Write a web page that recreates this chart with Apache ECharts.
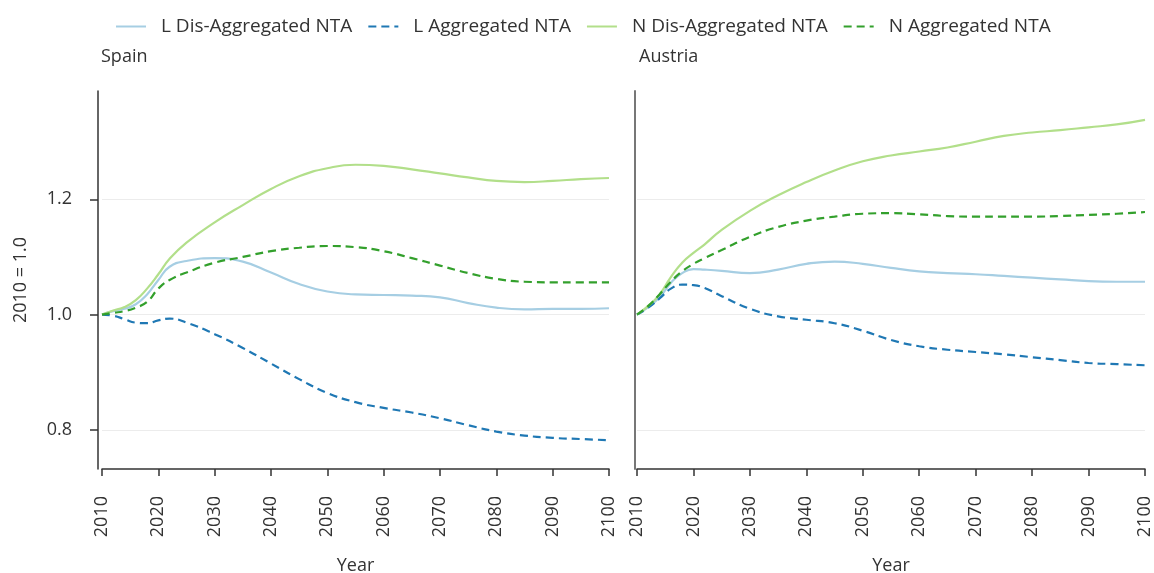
<!DOCTYPE html>
<html>
<head>
<meta charset="utf-8">
<script src="https://cdn.jsdelivr.net/npm/echarts@6/dist/echarts.min.js"></script>
<style>
  html, body { margin: 0; padding: 0; background: #fff; }
  #chart { width: 1154px; height: 573px; }
</style>
</head>
<body>
<div id="chart"></div>
<script>
// 年份（两个面板共用）
const years = [2010, 2012, 2014, 2016, 2018, 2020, 2022, 2025, 2030, 2035, 2040, 2045, 2050,
  2055, 2060, 2065, 2070, 2075, 2080, 2085, 2090, 2095, 2100]
const yTicks = [0.8, 1.0, 1.2]

// Spain
const spainLDis = [1.0, 1.006, 1.01, 1.018, 1.035, 1.06, 1.083, 1.093, 1.098, 1.092, 1.073, 1.053, 1.04,
  1.035, 1.034, 1.033, 1.03, 1.02, 1.012, 1.009, 1.01, 1.01, 1.011]
const spainLAgg = [1.0, 0.998, 0.992, 0.986, 0.985, 0.99, 0.993, 0.986, 0.966, 0.942, 0.915, 0.888, 0.864,
  0.848, 0.838, 0.83, 0.82, 0.808, 0.797, 0.79, 0.786, 0.784, 0.782]
const spainNDis = [1.0, 1.007, 1.013, 1.025, 1.045, 1.07, 1.097, 1.125, 1.16, 1.19, 1.218, 1.24, 1.254,
  1.26, 1.258, 1.252, 1.245, 1.238, 1.232, 1.23, 1.232, 1.235, 1.237]
const spainNAgg = [1.0, 1.003, 1.006, 1.012, 1.022, 1.045, 1.06, 1.073, 1.09, 1.1, 1.11, 1.116, 1.119,
  1.117, 1.11, 1.098, 1.085, 1.072, 1.062, 1.057, 1.056, 1.056, 1.056]

// Austria
const austriaLDis = [1.0, 1.013, 1.03, 1.055, 1.072, 1.079, 1.078, 1.076, 1.072, 1.078, 1.088, 1.092, 1.088,
  1.081, 1.075, 1.072, 1.07, 1.067, 1.064, 1.061, 1.058, 1.057, 1.057]
const austriaLAgg = [1.0, 1.012, 1.028, 1.045, 1.052, 1.051, 1.046, 1.032, 1.01, 0.997, 0.991, 0.985, 0.972,
  0.956, 0.945, 0.939, 0.935, 0.931, 0.926, 0.921, 0.916, 0.914, 0.912]
const austriaNDis = [1.0, 1.015, 1.035, 1.065, 1.09, 1.107, 1.122, 1.147, 1.18, 1.207, 1.23, 1.25, 1.266,
  1.276, 1.283, 1.29, 1.3, 1.31, 1.316, 1.32, 1.325, 1.33, 1.338]
const austriaNAgg = [1.0, 1.015, 1.035, 1.057, 1.075, 1.088, 1.098, 1.112, 1.135, 1.152, 1.163, 1.17, 1.175,
  1.176, 1.174, 1.171, 1.17, 1.17, 1.17, 1.171, 1.173, 1.175, 1.178]

const names = ['L Dis-Aggregated NTA', 'L Aggregated NTA', 'N Dis-Aggregated NTA', 'N Aggregated NTA']
const colors = ['#a6cee3', '#1f78b4', '#b2df8a', '#33a02c']
const dashed = [false, true, false, true]

const font = 'Open Sans'
const fontSize = 18
const textColor = '#333'

function pairs(vals) {
  return years.map((y, i) => [y, vals[i]])
}

function makeSeries(idx, list) {
  return list.map((vals, i) => ({
    name: names[i],
    type: 'line',
    xAxisIndex: idx,
    yAxisIndex: idx,
    smooth: true,
    symbol: 'none',
    color: colors[i],
    lineStyle: { width: 2.2, color: colors[i], type: dashed[i] ? [8, 5] : 'solid' },
    data: pairs(vals)
  }))
}

function xAxisCfg(gridIndex) {
  return {
    type: 'value',
    gridIndex: gridIndex,
    min: 2010,
    max: 2100,
    interval: 10,
    name: 'Year',
    nameLocation: 'middle',
    nameGap: 88,
    nameTextStyle: { fontFamily: font, fontSize: fontSize, color: textColor },
    axisLine: { show: true, lineStyle: { color: '#333', width: 1.5 } },
    axisTick: { show: true, length: 7, lineStyle: { color: '#333', width: 1.5 } },
    axisLabel: {
      rotate: 90, margin: 27, fontFamily: font, fontSize: fontSize, color: textColor,
      formatter: v => String(v)
    },
    splitLine: { show: false }
  }
}

function yAxisCfg(gridIndex, withLabels) {
  return {
    type: 'value',
    gridIndex: gridIndex,
    min: 0.732,
    max: 1.388,
    offset: withLabels ? 4 : 2,
    name: withLabels ? '2010 = 1.0' : '',
    nameLocation: 'middle',
    nameGap: 68,
    nameTextStyle: { fontFamily: font, fontSize: fontSize, color: textColor },
    axisLine: { show: true, lineStyle: { color: withLabels ? '#333' : '#777', width: withLabels ? 1.5 : 2 } },
    axisTick: { show: withLabels, length: 8, customValues: yTicks, lineStyle: { color: '#333', width: 1.5 } },
    axisLabel: {
      show: withLabels,
      customValues: yTicks,
      margin: 26,
      fontFamily: font,
      fontSize: fontSize,
      color: textColor,
      formatter: v => v.toFixed(1)
    },
    splitLine: { show: true, lineStyle: { color: '#ececec', width: 1 } }
  }
}

const chart = echarts.init(document.getElementById('chart'))
const option = {
  animation: false,
  backgroundColor: '#fff',
  title: [
    { text: 'Spain', left: 96, top: 43, textStyle: { fontFamily: font, fontSize: fontSize, fontWeight: 'normal', color: textColor } },
    { text: 'Austria', left: 634, top: 43, textStyle: { fontFamily: font, fontSize: fontSize, fontWeight: 'normal', color: textColor } }
  ],
  legend: {
    data: names,
    left: 110,
    top: 12,
    itemWidth: 30,
    itemHeight: 14,
    itemGap: 15,
    itemStyle: { opacity: 0 },
    textStyle: { fontFamily: font, fontSize: 19, color: textColor, padding: [0, 0, 0, 10] }
  },
  grid: [
    { left: 102, width: 507, top: 91, bottom: 104, outerBoundsMode: 'none' },
    { left: 637, width: 508, top: 91, bottom: 104, outerBoundsMode: 'none' }
  ],
  xAxis: [xAxisCfg(0), xAxisCfg(1)],
  yAxis: [yAxisCfg(0, true), yAxisCfg(1, false)],
  series: [].concat(
    makeSeries(0, [spainLDis, spainLAgg, spainNDis, spainNAgg]),
    makeSeries(1, [austriaLDis, austriaLAgg, austriaNDis, austriaNAgg])
  )
}
chart.setOption(option)
window.addEventListener('resize', function() {
  chart.resize()
})
</script>
</body>
</html>
